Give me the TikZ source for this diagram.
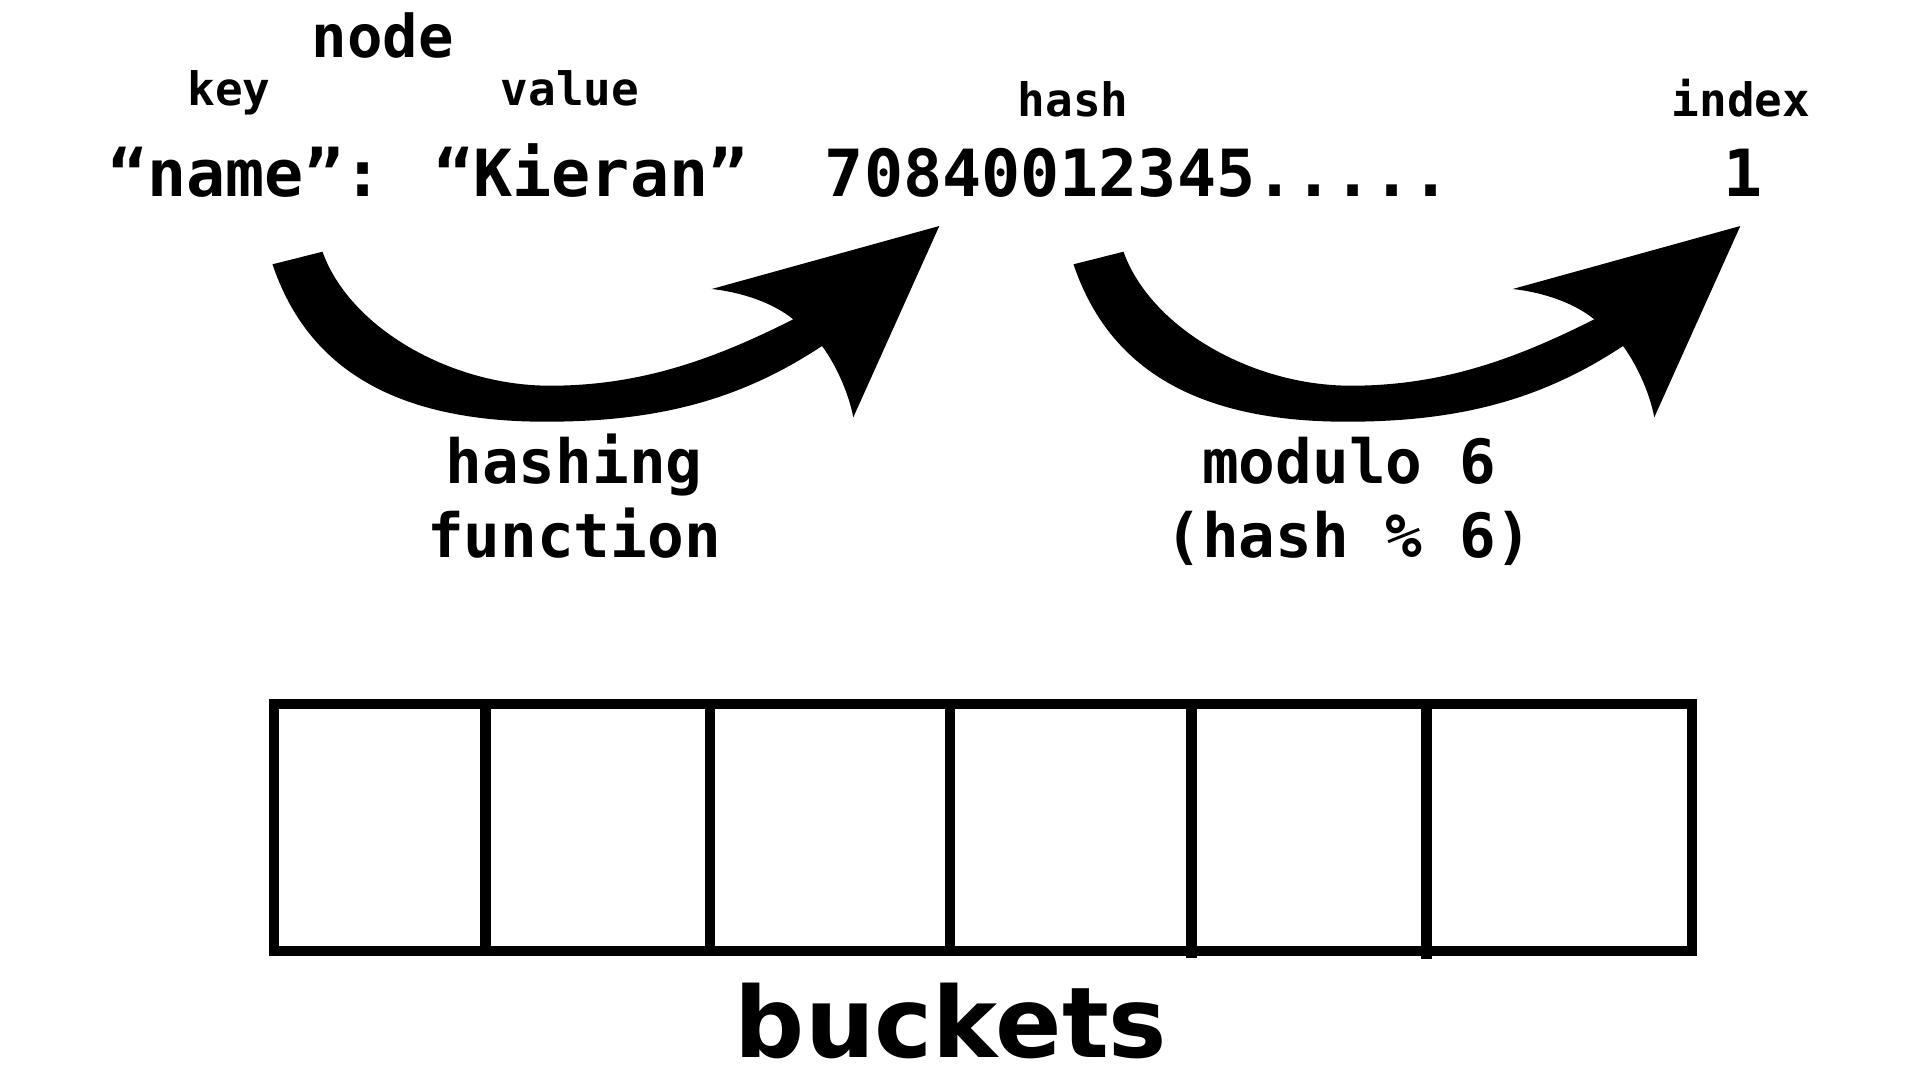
\documentclass[tikz,border=0pt]{standalone}
\usepackage{fontspec}
\newfontfamily\codefont{DejaVu Sans Mono}
\newfontfamily\titlefont{DejaVu Sans}
\begin{document}
\begin{tikzpicture}[x=1pt,y=-1pt,
  txt/.style={inner sep=0pt, anchor=base, text=black},
  smalllbl/.style={txt, font=\codefont\bfseries\fontsize{46}{50}\selectfont},
  nodelbl/.style={txt, font=\codefont\bfseries\fontsize{59}{64}\selectfont},
  steplbl/.style={txt, font=\codefont\bfseries\fontsize{61}{66}\selectfont},
  mainlbl/.style={txt, font=\codefont\bfseries\fontsize{65}{72}\selectfont},
  titlelbl/.style={txt, font=\titlefont\bfseries\fontsize{98}{110}\selectfont},
  cellline/.style={line width=10.5pt, draw=black},
  bigarrow/.pic={
    \fill[black]
      (272.5,264.3)
      .. controls (307.7,368.8) and (395.6,421.7) .. (545.6,421.7)
      .. controls (655.6,421.7) and (739,401) .. (822,346)
      .. controls (834,362) and (848,390) .. (853.3,417.3)
      -- (939.3,226)
      -- (711.7,289)
      .. controls (740,292) and (772,302) .. (793.2,319.3)
      .. controls (713.1,359.8) and (640,385.7) .. (550,385.7)
      .. controls (450,385.7) and (349.3,327.1) .. (322.5,251.7)
      -- cycle;
  }
]
\useasboundingbox (0,0) rectangle (1920,1080);
\fill[white] (0,0) rectangle (1920,1080);

% top labels
\node[nodelbl] (nodeword) at (383,57) {node};
\node[smalllbl] (keyword) at (229,105) {key};
\node[smalllbl] (valueword) at (570,105) {value};
\node[smalllbl] (hashword) at (1073,116.5) {hash};
\node[smalllbl] (indexword) at (1741,116.5) {index};

% main line
\node[mainlbl] (pair) at (428,196.5) {“name”: “Kieran”};
\node[mainlbl] (hashval) at (1138,196.5) {70840012345.....};
\node[mainlbl] (indexval) at (1743,196.5) {1};

% arrows
\pic at (0,0) {bigarrow};
\pic at (801,0) {bigarrow};

% step labels
\node[steplbl] (hf1) at (574,483.5) {hashing};
\node[steplbl] (hf2) at (574,557) {function};
\node[steplbl] (md1) at (1349,483.5) {modulo 6};
\node[steplbl] (md2) at (1349,557) {(hash \% 6)};

% buckets
\draw[cellline] (274,704) rectangle (1692,951);
\draw[cellline] (485.5,704) -- (485.5,951);
\draw[cellline] (710,704) -- (710,951);
\draw[cellline] (950,704) -- (950,951);
\draw[cellline] (1191.5,704) -- (1191.5,958);
\draw[cellline] (1426.5,704) -- (1426.5,959);

\node[titlelbl] (bucketsword) at (951,1057) {buckets};
\end{tikzpicture}
\end{document}
